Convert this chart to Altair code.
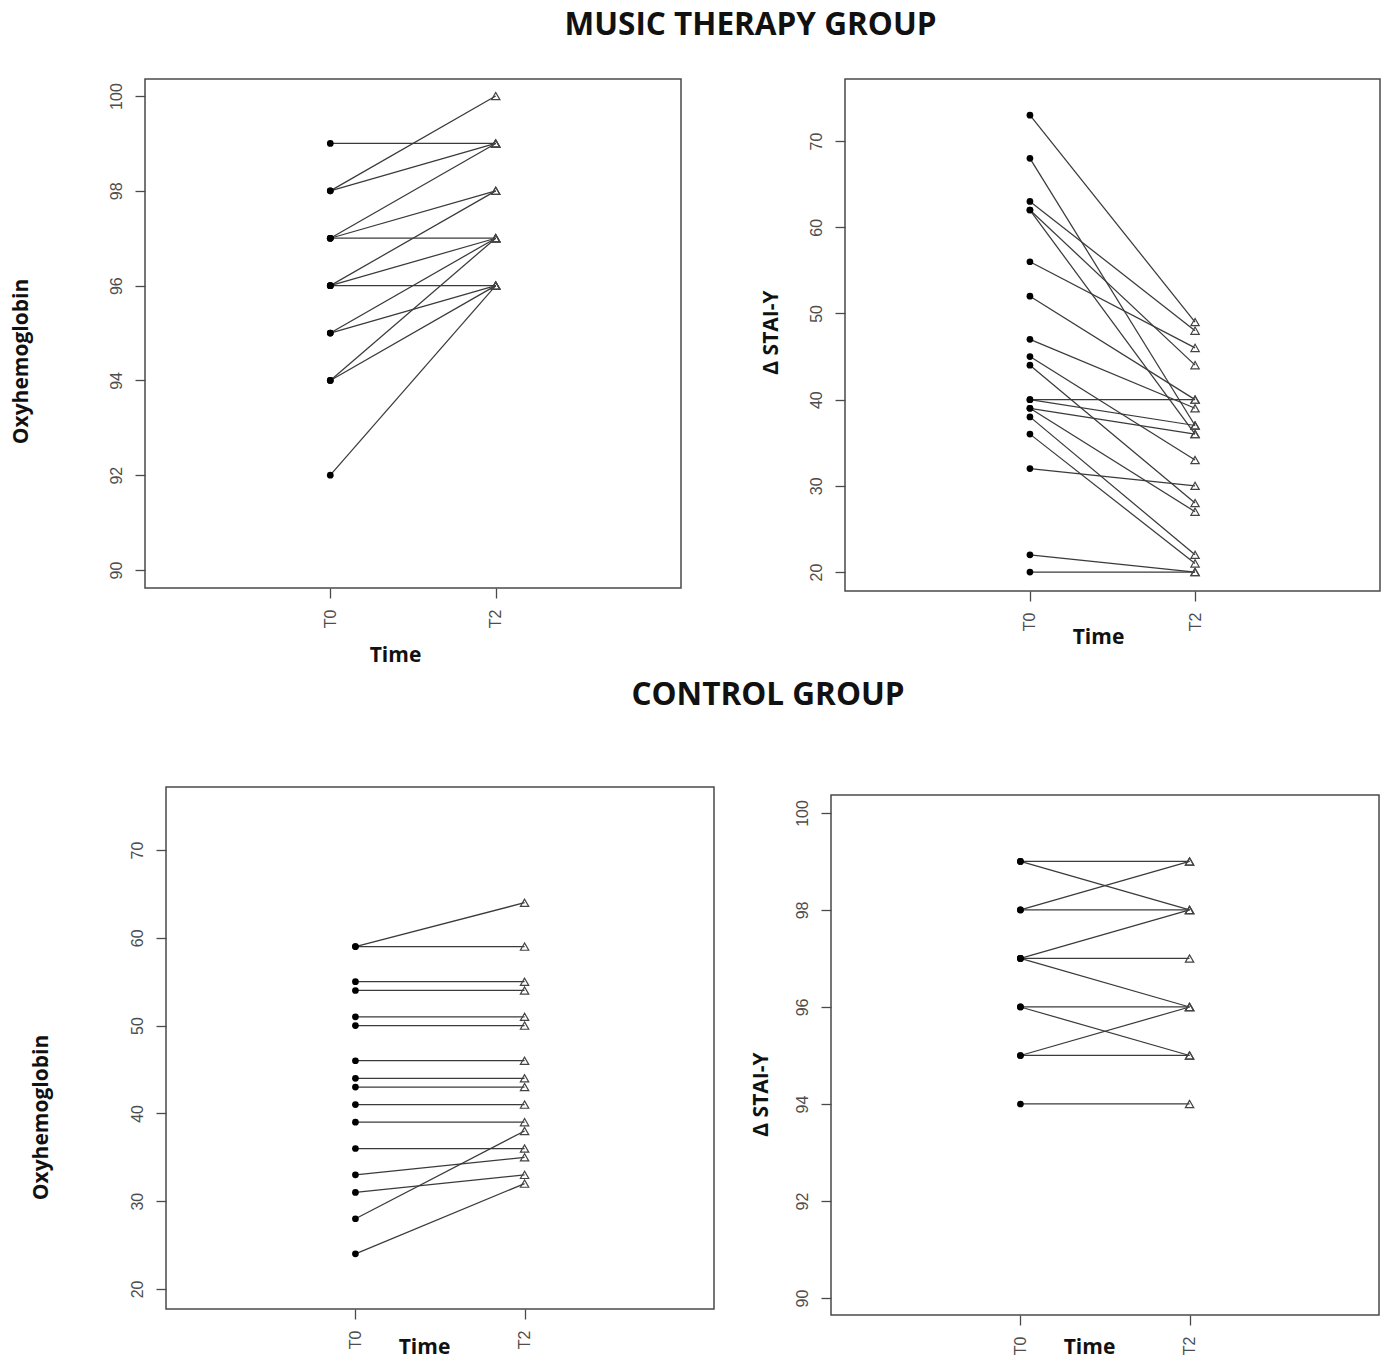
import altair as alt
import pandas as pd

# ---------------- data ----------------
time_labels = ["T0", "T2"]

# Music therapy group – Oxyhemoglobin (top-left)
mt_oxy_t0 = [99, 98, 98, 97, 97, 97, 96, 96, 96, 95, 95, 94, 94, 92]
mt_oxy_t2 = [99, 100, 99, 99, 98, 97, 98, 97, 96, 97, 96, 97, 96, 96]

# Music therapy group – delta STAI-Y (top-right)
mt_stai_t0 = [73, 68, 63, 62, 62, 56, 52, 47, 45, 44, 40, 40, 39, 39, 38, 36, 32, 22, 20]
mt_stai_t2 = [49, 37, 48, 44, 36, 46, 40, 39, 33, 28, 40, 37, 36, 27, 22, 21, 30, 20, 20]

# Control group – left panel
cg_left_t0 = [59, 59, 55, 54, 51, 50, 46, 44, 43, 41, 39, 36, 33, 31, 28, 24]
cg_left_t2 = [64, 59, 55, 54, 51, 50, 46, 44, 43, 41, 39, 36, 35, 33, 38, 32]

# Control group – right panel
cg_right_t0 = [99, 99, 98, 98, 97, 97, 97, 96, 96, 95, 95, 94]
cg_right_t2 = [99, 98, 99, 98, 98, 97, 96, 96, 95, 96, 95, 94]

oxy_ticks = [90, 92, 94, 96, 98, 100]
stai_ticks = [20, 30, 40, 50, 60, 70]
x_domain = [-0.12, 3.12]


def long_df(t0, t2):
    rows = []
    for i, (a, b) in enumerate(zip(t0, t2)):
        rows.append({"id": i, "time": 1, "value": a})
        rows.append({"id": i, "time": 2, "value": b})
    return pd.DataFrame(rows)


AX = dict(
    domain=False, grid=False, ticks=True, tickSize=10, tickColor="#4a4a4a",
    tickWidth=1.3, labelFont="Liberation Sans", labelFontSize=16,
    labelColor="#4d4d4d", labelAngle=270, labelPadding=11,
    titleFont="Open Sans", titleFontSize=21, titleFontWeight="bold",
    titleColor="#111111", labelFlush=False, labelOverlap=False,
)
FRAME = "#4a4a4a"


def panel(t0, t2, w, h, ydom, yticks, ytitle, ytx, yty, xtx, xty,
          top_gap=0, header=None):
    df = long_df(t0, t2)
    lab = f"datum.value == 1 ? '{time_labels[0]}' : '{time_labels[1]}'"
    x = alt.X(
        "time:Q",
        scale=alt.Scale(domain=x_domain, nice=False, zero=False),
        axis=alt.Axis(values=[1, 2], labelExpr=lab, title="Time",
                      titleX=xtx, titleY=xty,
                      titleBaseline="middle", titleAlign="center",
                      titleAngle=0, **AX),
    )
    sc = dict(domain=ydom, nice=False, zero=False)
    if top_gap:
        sc["range"] = [h, top_gap]
    y = alt.Y(
        "value:Q",
        scale=alt.Scale(**sc),
        axis=alt.Axis(values=yticks, title=ytitle, titleX=ytx,
                      titleY=yty, titleBaseline="middle",
                      titleAlign="center", titleAngle=270, **AX),
    )
    base = alt.Chart(df)
    lines = base.mark_line(color="#3a3a3a", strokeWidth=1.25).encode(
        x=x, y=y, detail="id:N")
    p0 = base.transform_filter("datum.time == 1").mark_point(
        shape="circle", filled=True, color="#000000", size=45, opacity=1
    ).encode(x=x, y=y)
    p2 = base.transform_filter("datum.time == 2").mark_point(
        shape="triangle-up", filled=False, color="#444444", size=70,
        strokeWidth=1.2, opacity=1
    ).encode(x=x, y=y)
    layers = [lines, p0, p2]
    props = dict(width=w, height=h)
    if top_gap:
        frame = alt.Chart(pd.DataFrame({"a": [0]})).mark_rect(
            fill="transparent", stroke=FRAME, strokeWidth=1.5
        ).encode(
            x=alt.datum(x_domain[0]), x2=alt.datum(x_domain[1]),
            y=alt.datum(ydom[0]), y2=alt.datum(ydom[1]),
        )
        layers.append(frame)
        props["view"] = alt.ViewBackground(stroke="transparent")
    else:
        props["view"] = alt.ViewBackground(stroke=FRAME, strokeWidth=1.5)
    if header is not None:
        props["title"] = header
    return alt.layer(*layers).properties(**props)


def spacer(w, h):
    d = pd.DataFrame({"a": [0]})
    return alt.Chart(d).mark_rect(opacity=0).encode(
        x=alt.value(0), x2=alt.value(w), y=alt.value(0), y2=alt.value(h)
    ).properties(width=w, height=h,
                 view=alt.ViewBackground(stroke="transparent"))


HDR = dict(font="Open Sans", fontSize=31.5, fontWeight="bold", color="#111111",
           anchor="start", align="center", baseline="alphabetic",
           frame="group")

hdr_top = alt.TitleParams("MUSIC THERAPY GROUP", dx=605.5, offset=13, **HDR)
hdr_bot = alt.TitleParams("CONTROL GROUP", dx=602, offset=51, **HDR)

tl = panel(mt_oxy_t0, mt_oxy_t2, 536, 509, [89.62, 100.36], oxy_ticks,
           "Oxyhemoglobin", -124, 282, 250, 67, header=hdr_top)
tr = panel(mt_stai_t0, mt_stai_t2, 535, 512, [17.8, 77.2], stai_ticks,
           "Δ STAI-Y", -74, 253, 253, 46)
bl = panel(cg_left_t0, cg_left_t2, 548, 522, [17.72, 77.18], stai_ticks,
           "Oxyhemoglobin", -125, 330, 258, 38, header=hdr_bot)
br = panel(cg_right_t0, cg_right_t2, 548, 528, [89.65, 100.37], oxy_ticks,
           "Δ STAI-Y", -70, 307, 258, 32, top_gap=8)

IND = dict(x="independent", y="independent")

top = alt.hconcat(tl, tr, spacing=164, bounds="flush").resolve_scale(**IND)
bottom = alt.hconcat(spacer(1, 1), bl, spacer(77, 1), br, spacing=20,
                     bounds="flush").resolve_scale(**IND)

chart = alt.vconcat(top, bottom, spacing=12).resolve_scale(**IND).properties(
    padding={"left": 1, "top": 0, "right": 0, "bottom": 0},
    background="white",
).configure_view(stroke="transparent")

chart.save("out.html", embed_options={"renderer": "svg", "actions": False})
